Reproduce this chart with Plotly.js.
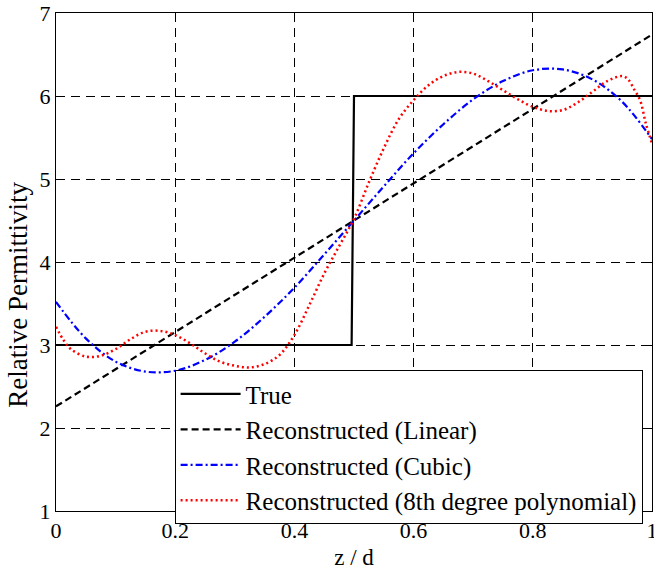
<!DOCTYPE html>
<html>
<head>
<meta charset="utf-8">
<script src="https://cdn.plot.ly/plotly-3.0.1.min.js"></script>
<style>html,body{margin:0;padding:0;background:#fff;}#chart{width:654px;height:571px;}</style>
</head>
<body>
<div id="chart"></div>
<script>
// ---- data ----
const trueX = [0, 0.496, 0.5, 1];
const trueY = [3, 3, 6, 6];

const linearX = [0, 0.5, 1];
const linearY = [2.26, 4.5, 6.74];

const cubicX = [0, 0.05, 0.1, 0.15, 0.2, 0.25, 0.3, 0.35, 0.4, 0.45, 0.5,
                0.55, 0.6, 0.65, 0.7, 0.75, 0.8, 0.85, 0.9, 0.95, 1];
const cubicY = [3.52, 3.08, 2.80, 2.68, 2.69, 2.82, 3.04, 3.34, 3.69, 4.09, 4.5,
                4.91, 5.31, 5.66, 5.96, 6.18, 6.31, 6.32, 6.20, 5.93, 5.48];

const polyX = [0, 0.0125, 0.025, 0.05, 0.075, 0.1, 0.125, 0.15, 0.175, 0.2, 0.225,
               0.25, 0.275, 0.3, 0.325, 0.35, 0.375, 0.4, 0.425, 0.45, 0.475, 0.5,
               0.525, 0.55, 0.575, 0.6, 0.625, 0.65, 0.675, 0.7, 0.725, 0.75, 0.775,
               0.8, 0.825, 0.85, 0.875, 0.9, 0.925, 0.95, 0.96, 0.97, 0.98, 0.99, 1];
const polyY = [3.22, 3.06, 2.95, 2.86, 2.87, 2.95, 3.07, 3.16, 3.17, 3.12, 3.02,
               2.90, 2.80, 2.75, 2.73, 2.77, 2.88, 3.12, 3.48, 3.86, 4.19, 4.52,
               4.96, 5.37, 5.72, 5.95, 6.13, 6.24, 6.29, 6.27, 6.18, 6.07, 5.96,
               5.87, 5.82, 5.83, 5.92, 6.05, 6.18, 6.24, 6.20, 6.08, 5.95, 5.66, 5.43];

const seriesNames = ["True", "Reconstructed (Linear)", "Reconstructed (Cubic)",
                     "Reconstructed (8th degree polynomial)"];
const xTicks = [0, 0.2, 0.4, 0.6, 0.8, 1];
const xTickText = ["0", "0.2", "0.4", "0.6", "0.8", "1"];
const yTicks = [1, 2, 3, 4, 5, 6, 7];
const xTitle = "z / d";
const yTitle = "Relative Permittivity";

const FONT = '"Liberation Serif", "Times New Roman", Times, serif';

const traces = [
  {x: trueX, y: trueY, name: seriesNames[0], mode: "lines",
   line: {color: "#000", width: 2.2, dash: "solid"}},
  {x: linearX, y: linearY, name: seriesNames[1], mode: "lines",
   line: {color: "#000", width: 2.2, dash: "7px,4px"}},
  {x: cubicX, y: cubicY, name: seriesNames[2], mode: "lines",
   line: {color: "#0000ff", width: 2.2, dash: "7px,3px,2px,3px", shape: "spline"}},
  {x: polyX, y: polyY, name: seriesNames[3], mode: "lines",
   line: {color: "#ff0000", width: 2.5, dash: "2px,3px", shape: "spline"}}
];

const axisCommon = {
  showline: true, linecolor: "#000", linewidth: 1, mirror: "allticks",
  ticks: "inside", ticklen: 6, tickcolor: "#000", tickwidth: 1,
  showgrid: true, gridcolor: "#000", gridwidth: 1, griddash: "9px,6px",
  zeroline: false, ticklabeloverflow: "allow",
  tickfont: {family: FONT, size: 22, color: "#000"}
};

const layout = {
  width: 654, height: 571,
  margin: {l: 56, r: 2, t: 13, b: 60},
  paper_bgcolor: "#fff", plot_bgcolor: "#fff",
  font: {family: FONT, color: "#000"},
  showlegend: true,
  xaxis: Object.assign({}, axisCommon, {
    range: [0, 1], tickvals: xTicks, ticktext: xTickText,
    title: {text: xTitle, font: {family: FONT, size: 23, color: "#000"}, standoff: 6}
  }),
  yaxis: Object.assign({}, axisCommon, {
    range: [1, 7], tickvals: yTicks
  }),
  annotations: [{
    text: yTitle, xref: "paper", yref: "paper",
    x: -0.064, y: 0.434, xanchor: "center", yanchor: "middle",
    textangle: -90, showarrow: false,
    font: {family: FONT, size: 27, color: "#000"}
  }],
  legend: {
    x: 0.199, y: 0.283, xanchor: "left", yanchor: "top",
    bgcolor: "#fff", bordercolor: "#000", borderwidth: 1,
    font: {family: FONT, size: 25, color: "#000"},
    itemwidth: 60, tracegroupgap: 0
  }
};

Plotly.newPlot("chart", traces, layout, {displayModeBar: false, staticPlot: true});
</script>
</body>
</html>
